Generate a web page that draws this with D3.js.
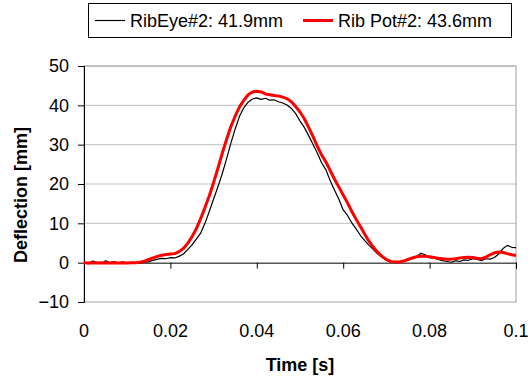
<!DOCTYPE html>
<html><head><meta charset="utf-8">
<script src="https://cdn.jsdelivr.net/npm/d3@7"></script>
<style>body{margin:0;background:#fff}svg{display:block;font-family:Arial,"Liberation Sans",sans-serif}</style>
</head><body>
<svg id="c" width="531" height="377"></svg>
<script>
const seriesNames = ["RibEye#2: 41.9mm", "Rib Pot#2: 43.6mm"];
const seriesColors = ["#000000", "#ff0000"];
const timeStart = 0, timeStep = 0.001;
const ribEye = [0.2,-0.3,0.4,0.1,-0.2,0.5,0.0,0.3,-0.1,0.2,-0.2,0.1,0.0,-0.1,0.1,
 0.2,0.6,0.9,1.1,1.0,1.3,1.2,1.6,2.2,3.3,4.5,6.0,7.5,10.0,13.0,
 16.2,19.3,22.6,26.4,30.4,34.0,37.2,39.4,40.8,41.6,41.9,41.5,41.8,41.3,41.4,
 40.9,40.6,40.1,39.2,37.9,36.0,34.4,32.3,30.1,27.9,25.4,23.6,20.8,18.4,16.1,
 13.4,12.0,10.1,8.6,6.9,5.6,4.4,3.3,2.2,1.4,0.6,0.1,0.3,0.1,0.5,
 0.9,1.1,1.6,2.4,2.0,1.3,1.2,0.8,0.5,0.3,0.1,0.5,0.3,0.7,0.6,
 1.0,0.8,0.5,1.0,0.9,1.3,2.2,3.6,4.4,3.9,3.8];
const ribPot = [0.0,-0.1,0.0,-0.1,0.0,-0.1,-0.1,0.0,-0.1,0.0,-0.1,0.0,0.0,0.1,0.4,
 0.8,1.2,1.6,1.9,2.1,2.2,2.3,2.8,3.6,4.9,6.6,8.6,11.2,14.0,17.0,
 20.4,24.0,27.8,31.3,34.6,37.3,39.6,41.3,42.7,43.4,43.6,43.4,42.9,42.7,42.5,
 42.4,42.1,41.7,40.9,39.7,38.3,36.6,34.4,32.1,29.6,27.4,25.6,23.4,21.2,19.2,
 17.2,15.2,13.0,11.0,9.1,7.2,5.4,3.9,2.6,1.6,0.8,0.3,0.2,0.2,0.4,
 0.8,1.2,1.5,1.7,1.6,1.5,1.3,1.1,1.0,0.9,0.9,1.0,1.2,1.3,1.4,
 1.3,1.1,1.0,1.4,2.0,2.5,2.7,2.6,2.3,2.0,1.8];
const xTicks = [0, 0.02, 0.04, 0.06, 0.08, 0.1];
const xTickLabels = ["0", "0.02", "0.04", "0.06", "0.08", "0.1"];
const yTicks = [-10, 0, 10, 20, 30, 40, 50];
const xTitle = "Time [s]", yTitle = "Deflection [mm]";

const svg = d3.select("#c");
const L = 84, R = 516, T = 66, B = 302;
const x = d3.scaleLinear().domain([0, 0.1]).range([L, R]);
const y = d3.scaleLinear().domain([-10, 50]).range([B, T]);

// gridlines
svg.append("g").selectAll("line").data(yTicks.filter(v => v > 0)).join("line")
  .attr("x1", L).attr("x2", R).attr("y1", d => y(d)).attr("y2", d => y(d))
  .attr("stroke", "#c0c0c0").attr("stroke-width", 1);
// plot border
svg.append("rect").attr("x", L).attr("y", y(50)).attr("width", R - L).attr("height", y(-10) - y(50))
  .attr("fill", "none").attr("stroke", "#a0a0a0").attr("stroke-width", 1);

// y axis
const ya = svg.append("g").attr("transform", `translate(${L},0)`)
  .call(d3.axisLeft(y).tickValues(yTicks).tickSize(6).tickPadding(9).tickFormat(d3.format("d")));
ya.select(".domain").attr("stroke", "#000");
ya.selectAll("text").attr("font-size", 18).attr("fill", "#000").style("font-family", "Arial, 'Liberation Sans', sans-serif");

// x axis at y=0
const xa = svg.append("g").attr("transform", `translate(0,${y(0)})`)
  .call(d3.axisBottom(x).tickValues(xTicks).tickSize(6).tickFormat((d, i) => xTickLabels[i]));
xa.select(".domain").attr("stroke", "#000");
xa.selectAll("text").remove();
svg.append("g").selectAll("text").data(xTicks).join("text")
  .attr("x", d => x(d)).attr("y", 337).attr("text-anchor", "middle")
  .attr("font-size", 18).text((d, i) => xTickLabels[i]);

// lines
const series = [ribEye, ribPot];
const widths = [1.2, 3];
const line = d3.line().x((d, i) => x(timeStart + i * timeStep)).y(d => y(d));
series.forEach((s, k) => {
  svg.append("path").datum(s).attr("d", line).attr("fill", "none")
    .attr("stroke", seriesColors[k]).attr("stroke-width", widths[k]).attr("stroke-linejoin", "round");
});

// titles
svg.append("text").attr("x", 300).attr("y", 371).attr("text-anchor", "middle")
  .attr("font-size", 18).attr("font-weight", "bold").text(xTitle);
svg.append("text").attr("transform", "translate(27,195) rotate(-90)").attr("text-anchor", "middle")
  .attr("font-size", 18).attr("font-weight", "bold").text(yTitle);

// legend
svg.append("rect").attr("x", 88.5).attr("y", 3.5).attr("width", 423).attr("height", 34)
  .attr("fill", "#fff").attr("stroke", "#000").attr("stroke-width", 1);
const legX = [95, 303];
series.forEach((s, k) => {
  svg.append("line").attr("x1", legX[k]).attr("x2", legX[k] + 30).attr("y1", 20.5).attr("y2", 20.5)
    .attr("stroke", seriesColors[k]).attr("stroke-width", widths[k]);
  svg.append("text").attr("x", legX[k] + 35).attr("y", 27).attr("font-size", 18).text(seriesNames[k]);
});
</script>
</body></html>
